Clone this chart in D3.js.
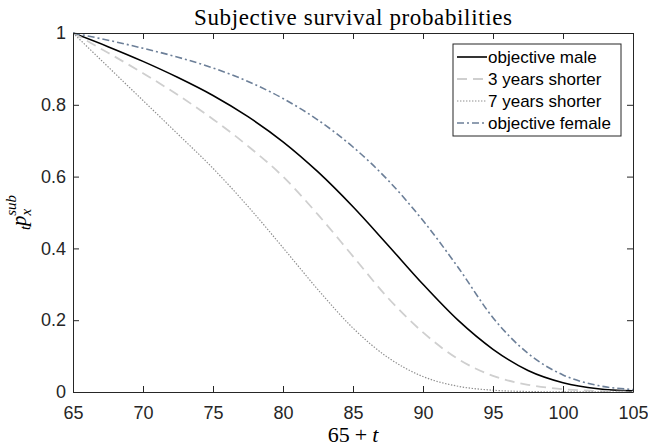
<!DOCTYPE html>
<html>
<head>
<meta charset="utf-8">
<script src="https://cdn.jsdelivr.net/npm/d3@7"></script>
<style>
  html, body { margin: 0; padding: 0; background: #ffffff; }
  svg { display: block; }
</style>
</head>
<body>
<svg id="chart" width="648" height="448"></svg>
<script>
// ---- data ----
const ages = [65, 67.5, 70, 72.5, 75, 77.5, 80, 82.5, 85, 87.5, 90, 92.5, 95, 97.5, 100, 102.5, 105];
const objectiveMale   = [1, 0.962, 0.921, 0.876, 0.826, 0.767, 0.697, 0.613, 0.516, 0.409, 0.300, 0.200, 0.119, 0.060, 0.026, 0.009, 0.003];
const threeShorter    = [1, 0.945, 0.888, 0.827, 0.760, 0.685, 0.600, 0.494, 0.378, 0.262, 0.166, 0.092, 0.045, 0.020, 0.008, 0.0025, 0.0006];
const sevenShorter    = [1, 0.906, 0.812, 0.718, 0.623, 0.517, 0.402, 0.285, 0.178, 0.096, 0.043, 0.016, 0.005, 0.0013, 0.0003, 0.0001, 0];
const objectiveFemale = [1, 0.980, 0.9575, 0.9325, 0.9025, 0.865, 0.8175, 0.7575, 0.6825, 0.590, 0.4775, 0.3475, 0.207, 0.1075, 0.0475, 0.018, 0.007];
const seriesNames = ["objective male", "3 years shorter", "7 years shorter", "objective female"];
const xTicks = [65, 70, 75, 80, 85, 90, 95, 100, 105];
const yTicks = [0, 0.2, 0.4, 0.6, 0.8, 1];
const yTickLabels = ["0", "0.2", "0.4", "0.6", "0.8", "1"];
const titleText = "Subjective survival probabilities";

// ---- layout ----
const svg = d3.select("#chart");
const L = 73, R = 633, T = 33, B = 392;
const axisColor = "#262626";
const x = d3.scaleLinear().domain([65, 105]).range([L, R]);
const y = d3.scaleLinear().domain([0, 1]).range([B, T]);

const styles = [
  { stroke: "#000000", width: 1.6, dash: null },
  { stroke: "#cfcfcf", width: 1.8, dash: "10,6" },
  { stroke: "#8e8e8e", width: 1.2, dash: "1.4,1.6" },
  { stroke: "#6c7f98", width: 1.6, dash: "7,3,2,3" }
];
const allSeries = [objectiveMale, threeShorter, sevenShorter, objectiveFemale];

svg.append("defs").append("clipPath").attr("id", "plotclip")
  .append("rect").attr("x", L).attr("y", T - 2).attr("width", R - L).attr("height", B - T + 2);

const line = d3.line().x(d => x(d[0])).y(d => y(d[1])).curve(d3.curveMonotoneX);

const plot = svg.append("g").attr("clip-path", "url(#plotclip)");
allSeries.forEach((s, i) => {
  const st = styles[i];
  plot.append("path")
    .datum(ages.map((a, k) => [a, s[k]]))
    .attr("d", line)
    .attr("fill", "none")
    .attr("stroke", st.stroke)
    .attr("stroke-width", st.width)
    .attr("stroke-dasharray", st.dash);
});

// ---- axes (box with inward ticks on all sides) ----
const tickLen = 6;
const fontSans = "'Liberation Sans', Arial, Helvetica, sans-serif";
const fontSerif = "'Liberation Serif', 'Times New Roman', serif";

const xAxisB = d3.axisBottom(x).tickValues(xTicks).tickSizeInner(-tickLen).tickSizeOuter(0).tickPadding(14).tickFormat(d3.format("d"));
const xAxisT = d3.axisTop(x).tickValues(xTicks).tickSizeInner(-tickLen).tickSizeOuter(0).tickFormat("");
const yAxisL = d3.axisLeft(y).tickValues(yTicks).tickSizeInner(-tickLen).tickSizeOuter(0).tickPadding(7).tickFormat((d, i) => yTickLabels[i]);
const yAxisR = d3.axisRight(y).tickValues(yTicks).tickSizeInner(-tickLen).tickSizeOuter(0).tickFormat("");

function styleAxis(g) {
  g.selectAll("path").attr("stroke", axisColor).attr("stroke-width", 1);
  g.selectAll("line").attr("stroke", axisColor).attr("stroke-width", 1);
  g.selectAll("text").attr("fill", axisColor).attr("font-family", fontSans).attr("font-size", 18);
}
svg.append("g").attr("transform", `translate(0,${B})`).call(xAxisB).call(styleAxis);
svg.append("g").attr("transform", `translate(0,${T})`).call(xAxisT).call(styleAxis);
svg.append("g").attr("transform", `translate(${L},0)`).call(yAxisL).call(styleAxis);
svg.append("g").attr("transform", `translate(${R},0)`).call(yAxisR).call(styleAxis);

// ---- title and axis labels ----
svg.append("text")
  .attr("x", (L + R) / 2).attr("y", 25)
  .attr("text-anchor", "middle")
  .attr("font-family", fontSerif).attr("font-size", 23)
  .attr("textLength", 318).attr("lengthAdjust", "spacing")
  .attr("fill", "#000")
  .text(titleText);

const xl = svg.append("text")
  .attr("x", (L + R) / 2).attr("y", 442)
  .attr("text-anchor", "middle")
  .attr("font-family", fontSerif).attr("font-size", 22)
  .attr("fill", "#000");
xl.append("tspan").text("65");
xl.append("tspan").attr("dx", 5).text("+");
xl.append("tspan").attr("dx", 5).attr("font-style", "italic").text("t");

const yl = svg.append("text")
  .attr("transform", `translate(26,${(T + B) / 2}) rotate(-90)`)
  .attr("text-anchor", "middle")
  .attr("font-family", fontSerif).attr("font-size", 21)
  .attr("fill", "#000");
yl.append("tspan").attr("font-style", "italic").attr("font-size", 15).attr("dy", 4).text("t");
yl.append("tspan").attr("font-style", "italic").attr("dy", -4).text("p");
yl.append("tspan").attr("font-style", "italic").attr("font-size", 15).attr("dy", 5).text("x");
yl.append("tspan").attr("font-style", "italic").attr("font-size", 15).attr("dx", -7).attr("dy", -15).text("sub");

// ---- legend ----
const legX = 453, legY = 44, legW = 168, rowH = 22;
const leg = svg.append("g");
leg.append("rect")
  .attr("x", legX).attr("y", legY).attr("width", legW).attr("height", rowH * seriesNames.length + 4)
  .attr("fill", "#fff").attr("stroke", axisColor).attr("stroke-width", 1);
seriesNames.forEach((name, i) => {
  const cy = legY + 2 + rowH * i + rowH / 2;
  const st = styles[i];
  leg.append("line")
    .attr("x1", legX + 4).attr("x2", legX + 34).attr("y1", cy).attr("y2", cy)
    .attr("stroke", st.stroke).attr("stroke-width", st.width)
    .attr("stroke-dasharray", st.dash);
  leg.append("text")
    .attr("x", legX + 35).attr("y", cy).attr("dy", "0.35em")
    .attr("font-family", fontSans).attr("font-size", 17)
    .attr("fill", "#000")
    .text(name);
});
</script>
</body>
</html>
